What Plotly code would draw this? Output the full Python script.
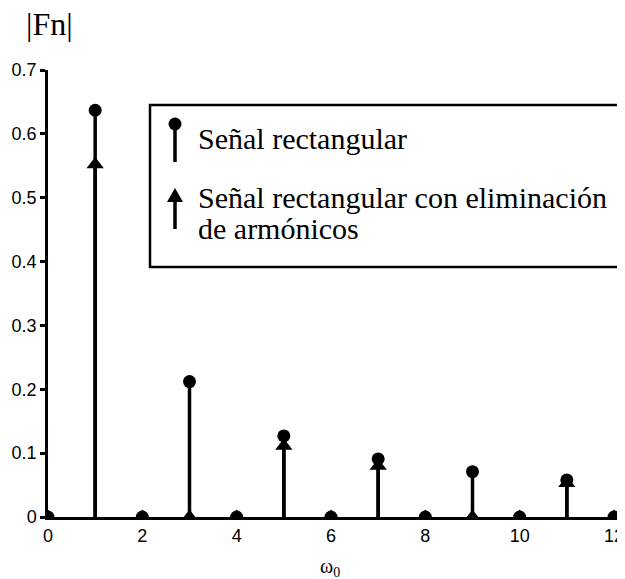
import plotly.graph_objects as go

# Data
harmonics = list(range(0, 13))
rect_vals = [0, 0.637, 0, 0.212, 0, 0.127, 0, 0.091, 0, 0.071, 0, 0.058, 0]
elim_vals = [0, 0.552, 0, 0.0, 0, 0.111, 0, 0.080, 0, 0.0, 0, 0.053, 0]
x_ticks = [0, 2, 4, 6, 8, 10, 12]
y_ticks = [0, 0.1, 0.2, 0.3, 0.4, 0.5, 0.6, 0.7]
legend_labels = ["Señal rectangular", "Señal rectangular con eliminación", "de armónicos"]

W, H = 625, 579
OFF = 8  # default page body margin
# plot area in page pixels
P_LEFT, P_TOP, P_BOTTOM = 48, 70, 517
L = P_LEFT - OFF
T = P_TOP - OFF
B = H - (P_BOTTOM - OFF)
R = 0
plot_w = W - L - R
plot_h = H - T - B
UNIT = (614 - 48) / 12.0


def px(xp):
    return (xp - P_LEFT) / plot_w


def py(yp):
    return (P_BOTTOM - yp) / plot_h


def stems(xs, ys):
    sx, sy = [], []
    for a, b in zip(xs, ys):
        sx += [a, a, None]
        sy += [0, b, None]
    return sx, sy


fig = go.Figure()
for vals in [rect_vals, elim_vals]:
    sx, sy = stems(harmonics, vals)
    fig.add_trace(go.Scatter(x=sx, y=sy, mode="lines",
                             line=dict(color="black", width=3.5),
                             hoverinfo="skip", showlegend=False))
for vals, sym, size in [(rect_vals, "circle", 13), (elim_vals, "triangle-up", 15)]:
    fig.add_trace(go.Scatter(x=harmonics, y=vals, mode="markers",
                             marker=dict(symbol=sym, size=size, color="black",
                                         line=dict(width=0)),
                             showlegend=False))

serif = "Liberation Serif, Times New Roman, serif"
sans = "Liberation Sans, Arial, sans-serif"

shapes = []
# legend box
shapes.append(dict(type="rect", xref="paper", yref="paper",
                   x0=px(150), x1=px(670), y0=py(267), y1=py(105),
                   line=dict(color="black", width=2.5), fillcolor="white", layer="above"))
# legend symbol 1: stem + dot
shapes.append(dict(type="line", xref="paper", yref="paper",
                   x0=px(175), x1=px(175), y0=py(162), y1=py(124),
                   line=dict(color="black", width=3.5), layer="above"))
shapes.append(dict(type="circle", xref="paper", yref="paper",
                   x0=px(168.5), x1=px(181.5), y0=py(130.5), y1=py(117.5),
                   line=dict(color="black", width=0), fillcolor="black", layer="above"))
# legend symbol 2: stem + triangle
shapes.append(dict(type="line", xref="paper", yref="paper",
                   x0=px(175), x1=px(175), y0=py(229), y1=py(196),
                   line=dict(color="black", width=3.5), layer="above"))
tri = "M {:.5f} {:.5f} L {:.5f} {:.5f} L {:.5f} {:.5f} Z".format(
    px(167), py(202), px(183), py(202), px(175), py(188))
shapes.append(dict(type="path", xref="paper", yref="paper", path=tri,
                   line=dict(color="black", width=0), fillcolor="black", layer="above"))

annotations = [
    dict(text=legend_labels[0], xref="paper", yref="paper", x=px(196), y=py(138),
         xanchor="left", yanchor="middle", showarrow=False,
         font=dict(family=serif, size=30, color="black")),
    dict(text=legend_labels[1], xref="paper", yref="paper", x=px(196), y=py(197),
         xanchor="left", yanchor="middle", showarrow=False,
         font=dict(family=serif, size=30, color="black")),
    dict(text=legend_labels[2], xref="paper", yref="paper", x=px(196), y=py(228),
         xanchor="left", yanchor="middle", showarrow=False,
         font=dict(family=serif, size=30, color="black")),
    dict(text="|Fn|", xref="paper", yref="paper", x=px(24), y=py(24),
         xanchor="left", yanchor="middle", showarrow=False,
         font=dict(family=serif, size=32, color="black")),
    dict(text="ω<sub>0</sub>", xref="paper", yref="paper", x=px(330), y=py(567),
         xanchor="center", yanchor="middle", showarrow=False,
         font=dict(family=serif, size=20, color="black")),
]

fig.update_layout(
    width=W, height=H,
    margin=dict(l=L, r=R, t=T, b=B, autoexpand=False),
    paper_bgcolor="white", plot_bgcolor="white",
    showlegend=False,
    shapes=shapes, annotations=annotations,
    xaxis=dict(range=[0, plot_w / UNIT], tickvals=x_ticks,
               ticktext=[str(v) for v in x_ticks], automargin=False,
               showgrid=False, zeroline=False, showline=True,
               linecolor="black", linewidth=3, ticks="",
               tickfont=dict(family=sans, size=18, color="black")),
    yaxis=dict(range=[0, 0.7], tickvals=y_ticks, automargin=False,
               ticktext=["0"] + ["{:.1f}".format(v) for v in y_ticks[1:]],
               showgrid=False, zeroline=False, showline=True,
               linecolor="black", linewidth=2.5, ticks="outside",
               ticklen=5, tickwidth=2.5, tickcolor="black",
               tickfont=dict(family=sans, size=18, color="black")),
)

fig.write_html("out.html")
